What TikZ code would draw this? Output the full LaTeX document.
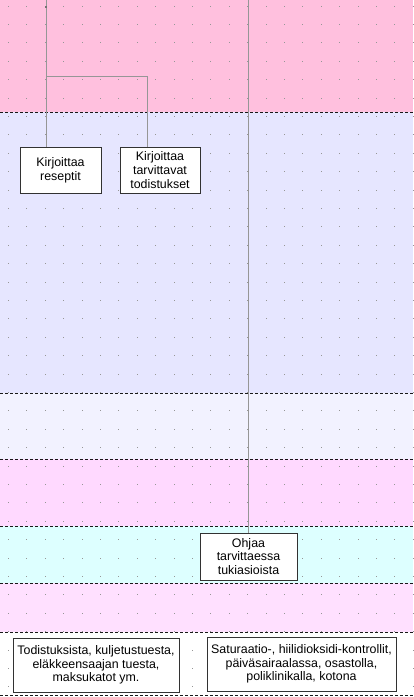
\documentclass[tikz,border=0pt]{standalone}
\usepackage{fontspec}
\setmainfont{Liberation Sans}
\definecolor{bandA}{RGB}{255,192,222}
\definecolor{bandB}{RGB}{230,230,255}
\definecolor{bandC}{RGB}{242,242,255}
\definecolor{bandD}{RGB}{255,217,255}
\definecolor{bandE}{RGB}{221,255,255}
\definecolor{bandF}{RGB}{255,224,255}
\definecolor{dotc}{RGB}{150,150,150}
\definecolor{connc}{RGB}{150,150,150}
\definecolor{boxc}{RGB}{50,50,50}
\tikzset{
  sep/.style={draw=black!90, line width=1pt, dash pattern=on 3pt off 2pt},
  conn/.style={draw=connc, line width=0.9pt},
  lane/.style={draw, fill=white, draw=boxc, line width=0.9pt, align=center,
    inner sep=0pt, font=\fontsize{12.4}{13.6}\selectfont},
}
\begin{document}
\begin{tikzpicture}[x=1pt,y=-1pt]
\useasboundingbox (0,0) rectangle (413,697);
% bands
\fill[bandA] (0,0) rectangle (413,112);
\fill[bandB] (0,112) rectangle (413,393);
\fill[bandC] (0,393) rectangle (413,459);
\fill[bandD] (0,459) rectangle (413,526);
\fill[bandE] (0,526) rectangle (413,583);
\fill[bandF] (0,583) rectangle (413,632);
\fill[white] (0,632) rectangle (413,697);
% dot grid
\foreach \i in {0,...,22} {
  \foreach \j in {0,...,37} {
    \fill[dotc] ({8+18.4*\i},{5.5+18.4*\j}) rectangle ++(1,1);
  }
}
% separators
\foreach \yy in {112,393,459,526,583,632,695} {
  \draw[sep] (0,\yy) -- (413,\yy);
}
% boxes
\node[lane, minimum width=81, minimum height=46] (b1) at (60.5,170) {Kirjoittaa\\reseptit};
\node[lane, minimum width=80, minimum height=46] (b2) at (160,170) {Kirjoittaa\\tarvittavat\\todistukset};
\node[lane, minimum width=97, minimum height=47] (b3) at (248.5,556.5) {Ohjaa\\tarvittaessa\\tukiasioista};
\node[lane, minimum width=166, minimum height=54] (b4) at (96,665) {Todistuksista, kuljetustuesta,\\eläkkeensaajan tuesta,\\maksukatot ym.};
\node[lane, minimum width=189, minimum height=54] (b5) at (301.5,664) {Saturaatio-, hiilidioksidi-kontrollit,\\päiväsairaalassa, osastolla,\\poliklinikalla, kotona};
% connectors
\coordinate (t1) at (46,0);
\coordinate (t2) at (248,0);
\coordinate (j1) at (46,76);
\coordinate (j2) at (147,76);
\draw[conn] (t1) -- (t1 |- b1.north);
\draw[conn] (j1) -- (j2) -- (j2 |- b2.north);
\draw[conn] (t2) -- (t2 |- b3.north);
\fill[black!55] (45,6) rectangle ++(2,2);
\end{tikzpicture}
\end{document}
